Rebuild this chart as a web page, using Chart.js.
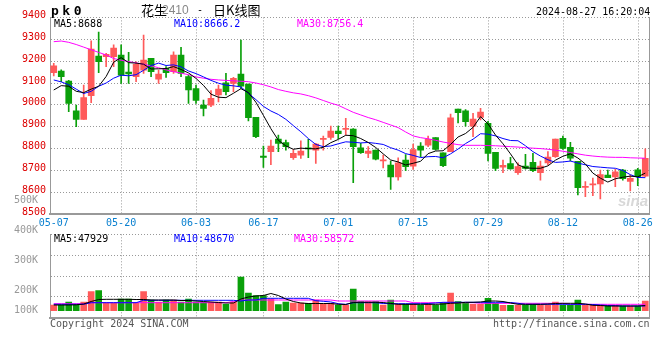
<!DOCTYPE html>
<html>
<head>
<meta charset="utf-8">
<script src="https://cdn.jsdelivr.net/npm/chart.js@4.4.1/dist/chart.umd.min.js"></script>
<style>
  body { margin: 0; background: #fff; }
  #wrap { position: relative; width: 660px; height: 360px; overflow: hidden; font-family: 'DejaVu Sans Mono', monospace; font-size: 10px; }
  canvas { position: absolute; left: 0; }
  .t { position: absolute; white-space: nowrap; line-height: 10px; }
</style>
</head>
<body>
<div id="wrap">
  <canvas id="price" width="660" height="232" style="top:0"></canvas>
  <canvas id="vol" width="660" height="140" style="top:190px"></canvas>

  <div class="t" style="left:51px;top:4px;font-weight:bold;font-size:13px;line-height:13px;letter-spacing:3.5px">pk0</div>
  <div class="t" style="left:141px;top:3px;font-family:'Noto Sans CJK SC';font-size:13px;line-height:13px">花生</div>
  <div class="t" style="left:162px;top:4px;font-family:'Liberation Sans';font-size:12px;line-height:12px;color:#888">2410</div>
  <div class="t" style="left:197px;top:5px">-</div>
  <div class="t" style="left:213px;top:3px;font-family:'Noto Sans CJK SC';font-size:13px;line-height:13px">日K线图</div>
  <div class="t" style="left:536px;top:7px">2024-08-27 16:20:04</div>

  <div class="t" style="left:54px;top:19px;color:#000">MA5:8688</div>
  <div class="t" style="left:174px;top:19px;color:#0000ff">MA10:8666.2</div>
  <div class="t" style="left:297px;top:19px;color:#ff00ff">MA30:8756.4</div>

  <div class="t" style="left:618px;top:193px;font-family:'Liberation Sans';font-weight:bold;font-style:italic;font-size:15px;line-height:15px;color:#d8d8d8">sina</div>

  <div class="t" style="left:54px;top:234px;color:#000">MA5:47929</div>
  <div class="t" style="left:174px;top:234px;color:#0000ff">MA10:48670</div>
  <div class="t" style="left:294px;top:234px;color:#ff00ff">MA30:58572</div>

  <div class="t" style="left:50px;top:319px;color:#555">Copyright 2024 SINA.COM</div>
  <div class="t" style="left:493px;top:319px;color:#555">http://finance.sina.com.cn</div>
</div>

<script>
// trading days 05-07 .. 08-27
const dates = [
  '05-07','05-08','05-09','05-10','05-13','05-14','05-15','05-16','05-17','05-20',
  '05-21','05-22','05-23','05-24','05-27','05-28','05-29','05-30','05-31','06-03',
  '06-04','06-05','06-06','06-07','06-11','06-12','06-13','06-14','06-17','06-18',
  '06-19','06-20','06-21','06-24','06-25','06-26','06-27','06-28','07-01','07-02',
  '07-03','07-04','07-05','07-08','07-09','07-10','07-11','07-12','07-15','07-16',
  '07-17','07-18','07-19','07-22','07-23','07-24','07-25','07-26','07-29','07-30',
  '07-31','08-01','08-02','08-05','08-06','08-07','08-08','08-09','08-12','08-13',
  '08-14','08-15','08-16','08-19','08-20','08-21','08-22','08-23','08-26','08-27'
];
const shownDates = ['05-07','05-20','06-03','06-17','07-01','07-15','07-29','08-12','08-26'];

const opens = [
  9147,9155,9109,8973,8934,9042,9223,9220,9220,9228,
  9150,9129,9159,9213,9118,9167,9152,9228,9129,9075,
  8999,8999,9045,9101,9098,9141,9095,8943,8766,8786,
  8844,8827,8758,8770,8804,8793,8842,8851,8880,8888,
  8889,8804,8778,8793,8744,8725,8671,8748,8720,8812,
  8816,8850,8781,8786,8981,8973,8903,8943,8915,8783,
  8715,8732,8690,8720,8737,8690,8735,8763,8847,8806,
  8742,8623,8634,8638,8679,8670,8702,8650,8703,8674
];
const highs = [
  9190,9160,9112,8999,9091,9293,9333,9236,9274,9274,
  9240,9197,9319,9213,9159,9175,9243,9263,9136,9091,
  9022,9065,9091,9144,9126,9296,9095,8943,8812,8839,
  8862,8839,8796,8836,8842,8824,8857,8903,8903,8938,
  8892,8824,8809,8793,8770,8743,8758,8773,8821,8827,
  8857,8850,8781,8958,8981,8979,8961,8984,8925,8783,
  8748,8760,8735,8774,8778,8743,8786,8844,8857,8829,
  8742,8649,8665,8702,8702,8705,8705,8679,8710,8799
];
const lows = [
  9132,9106,8969,8900,8934,9010,9147,9175,9175,9098,
  9098,9106,9144,9129,9098,9126,9144,9129,9007,9007,
  8950,8992,9014,9045,9060,9075,8927,8850,8714,8726,
  8786,8793,8751,8755,8758,8732,8793,8842,8845,8862,
  8644,8778,8758,8748,8712,8613,8656,8699,8705,8763,
  8809,8793,8717,8786,8918,8903,8854,8931,8744,8699,
  8690,8706,8682,8706,8694,8656,8725,8760,8796,8744,
  8588,8580,8585,8570,8667,8626,8656,8607,8630,8671
];
const closes = [
  9178,9129,9007,8934,9033,9255,9197,9231,9260,9136,
  9142,9185,9205,9152,9141,9147,9228,9144,9068,9020,
  8984,9030,9072,9060,9121,9086,8941,8854,8760,8812,
  8824,8809,8778,8789,8798,8821,8845,8880,8868,8892,
  8809,8781,8789,8752,8748,8671,8735,8717,8796,8793,
  8842,8796,8722,8941,8964,8923,8935,8967,8778,8709,
  8723,8707,8718,8709,8699,8720,8761,8844,8801,8756,
  8621,8626,8638,8681,8667,8694,8662,8664,8672,8755
];

const ma5 = [
  9068,9088,9085,9062,9056,9072,9085,9130,9195,9216,
  9193,9191,9186,9164,9165,9166,9175,9162,9146,9121,
  9089,9049,9035,9033,9053,9074,9056,9012,8952,8891,
  8838,8812,8797,8802,8800,8799,8806,8827,8842,8861,
  8859,8846,8828,8805,8776,8748,8739,8725,8733,8742,
  8777,8789,8790,8819,8853,8869,8897,8946,8913,8862,
  8822,8776,8726,8712,8710,8710,8721,8747,8765,8776,
  8757,8730,8688,8665,8647,8662,8669,8674,8671,8688
];
const ma10 = [
  9114,9105,9092,9072,9052,9062,9085,9100,9122,9136,
  9133,9138,9158,9180,9191,9180,9183,9174,9155,9143,
  9128,9112,9099,9090,9087,9082,9053,9024,8993,8972,
  8956,8934,8905,8877,8846,8819,8809,8812,8822,8831,
  8829,8826,8828,8824,8819,8804,8793,8777,8769,8759,
  8763,8764,8758,8776,8798,8823,8843,8868,8866,8858,
  8846,8837,8836,8813,8786,8766,8749,8737,8739,8743,
  8734,8726,8718,8715,8712,8710,8700,8681,8668,8667
];
const ma30 = [
  9289,9292,9286,9276,9264,9252,9240,9228,9212,9204,
  9198,9192,9186,9178,9170,9160,9152,9145,9138,9128,
  9122,9117,9114,9112,9110,9108,9106,9100,9092,9082,
  9070,9062,9055,9050,9042,9032,9020,9008,8998,8982,
  8966,8954,8942,8932,8920,8908,8896,8876,8858,8850,
  8845,8838,8830,8824,8818,8815,8815,8815,8814,8813,
  8811,8809,8807,8804,8802,8800,8797,8793,8788,8782,
  8776,8770,8766,8763,8761,8760,8760,8758,8757,8756
];

const volumes = [
  45600,45600,69600,45600,69600,152000,160000,59200,59200,93600,
  93600,59200,152000,85600,69600,85600,85600,69600,93600,69600,
  69600,69600,69600,51200,69600,269600,141600,120000,120000,93600,
  48000,69600,61600,61600,59200,85600,51200,59200,45600,45600,
  173600,72000,72000,72000,45600,85600,51200,51200,51200,45600,
  51200,45600,59200,141600,72000,59200,51200,51200,99200,59200,
  43200,43200,43200,43200,43200,43200,43200,69600,43200,43200,
  85600,43200,43200,43200,37600,43200,37600,37600,37600,77600
];
const volMa5 = [
  45600,45600,45600,47200,53600,73600,89600,91200,91200,91200,
  91200,89600,89600,85600,85600,85600,85600,81600,81600,77600,
  73600,69600,65600,61600,61600,93600,109600,117600,121600,137600,
  121600,93600,73600,61600,57600,57600,57600,57600,51200,49600,
  65600,67200,67200,67200,65600,57600,51200,51200,51200,51200,
  51200,51200,53600,59200,61600,67200,67200,69600,77600,77600,
  73600,61600,51200,51200,51200,51200,53600,57600,59200,59200,
  59200,53600,43200,41600,37600,37600,37600,37600,37600,41600
];
const volMa10 = [
  51200,51200,51200,51200,51200,64000,64000,64000,64000,64000,
  64000,64000,83200,83200,83200,83200,83200,83200,83200,83200,
  83200,83200,83200,83200,83200,77600,85600,85600,99200,99200,
  99200,99200,99200,99200,99200,80000,75200,70000,56000,51200,
  64000,64000,64000,64000,57600,56000,56000,56000,56000,56000,
  57600,61600,67200,67200,67200,67200,67200,67200,67200,67200,
  67200,65600,59200,51200,51200,51200,51200,51200,51200,51200,
  51200,51200,49600,45600,41600,40000,37600,37600,37600,37600
];
const volMa30 = [
  56000,56000,56000,56000,56000,64000,64000,64000,64000,64000,
  64000,64000,64000,64000,64000,64000,64000,64000,64000,64000,
  64000,64000,64000,64000,73600,85600,85600,85600,85600,85600,
  85600,85600,85600,85600,85600,85600,85600,85600,77600,77600,
  77600,77600,77600,77600,77600,77600,77600,77600,64000,64000,
  64000,64000,64000,64000,64000,64000,64000,59200,59200,59200,
  59200,59200,59200,59200,59200,59200,59200,59200,59200,51200,
  51200,51200,51200,51200,51200,51200,51200,51200,51200,51200
];
const volTickValues = [0, 160000, 400000, 640000, 880000];
const volTickLabels = ['100K', '200K', '300K', '400K', '500K'];

const UP = '#ff5a5a';
const DOWN = '#0aa00a';
const GRID = '#999';
const candleColors = closes.map((c, i) => c >= opens[i] ? UP : DOWN);

Chart.defaults.font.family = "'DejaVu Sans Mono', monospace";
Chart.defaults.font.size = 10;

// dotted vertical lines on the labelled dates
const dateLines = {
  id: 'dateLines',
  beforeDatasetsDraw(chart) {
    const { ctx, chartArea, scales: { x } } = chart;
    ctx.save();
    ctx.strokeStyle = GRID;
    ctx.lineWidth = 1;
    ctx.setLineDash([1, 2]);
    shownDates.forEach(d => {
      const i = dates.indexOf(d);
      if (i <= 0) return;
      const px = Math.round(x.getPixelForValue(i)) + 0.5;
      ctx.beginPath();
      ctx.moveTo(px, chartArea.top);
      ctx.lineTo(px, chartArea.bottom);
      ctx.stroke();
    });
    ctx.restore();
  }
};

function maLine(data, color) {
  return { type: 'line', data: data, borderColor: color, borderWidth: 1, pointRadius: 0, tension: 0, order: 0 };
}

const common = {
  responsive: false,
  animation: false,
  devicePixelRatio: 1,
  events: [],
  plugins: { legend: { display: false }, tooltip: { enabled: false } }
};

const rightBorder = {
  position: 'right',
  ticks: { display: false },
  grid: { display: false, drawTicks: false },
  border: { color: GRID },
  afterFit: s => { s.width = 0; }
};

// price (K line)
new Chart(document.getElementById('price'), {
  type: 'bar',
  data: {
    labels: dates,
    datasets: [
      maLine(ma5, '#000000'),
      maLine(ma10, '#0000ff'),
      maLine(ma30, '#ff00ff'),
      {
        data: opens.map((o, i) => [o, closes[i]]),
        backgroundColor: candleColors,
        barThickness: 6, minBarLength: 1, grouped: false, order: 1
      },
      {
        data: lows.map((l, i) => [l, highs[i]]),
        backgroundColor: candleColors,
        barThickness: 1, grouped: false, order: 2
      }
    ]
  },
  options: {
    ...common,
    layout: { padding: { top: 17.4, right: 11, left: 0, bottom: 0 } },
    scales: {
      x: {
        grid: { display: false, drawTicks: false },
        border: { color: GRID, width: 2 },
        ticks: {
          autoSkip: false, maxRotation: 0, minRotation: 0, padding: 3, color: '#0a80d0',
          callback: (v, i) => shownDates.includes(dates[i]) ? dates[i] : ''
        },
        afterFit: s => { s.height = 17.8; }
      },
      y: {
        min: 8500, max: 9400,
        ticks: { stepSize: 100, color: '#dd0000', padding: 4, labelOffset: -2, callback: v => String(v) },
        grid: { drawTicks: false, color: GRID },
        border: { color: GRID, dash: [1, 2] },
        afterFit: s => { s.width = 50; }
      },
      yr: rightBorder
    }
  },
  plugins: [dateLines]
});

// volume
const volMin = -56000, volMax = 611200;
new Chart(document.getElementById('vol'), {
  type: 'bar',
  data: {
    labels: dates,
    datasets: [
      maLine(volMa5, '#000000'),
      maLine(volMa10, '#0000ff'),
      maLine(volMa30, '#ff00ff'),
      { data: volumes, backgroundColor: candleColors, barThickness: 6, order: 1 }
    ]
  },
  options: {
    ...common,
    layout: { padding: { top: 44.3, right: 11, left: 0, bottom: 12.3 } },
    scales: {
      x: {
        grid: { display: false, drawTicks: false },
        border: { color: GRID, width: 2 },
        ticks: { display: false, autoSkip: false },
        afterFit: s => { s.height = 0; }
      },
      y: {
        min: volMin, max: volMax, weight: 0,
        ticks: { display: false },
        grid: { drawTicks: false, color: GRID },
        border: { color: GRID, dash: [1, 2] },
        afterBuildTicks: s => {
          // four equal bands
          s.ticks = [0, 1, 2, 3, 4].map(k => ({ value: s.min + (s.max - s.min) * k / 4 }));
        },
        afterFit: s => { s.width = 0; }
      },
      yl: {
        position: 'left', weight: 1,
        min: volMin, max: volMax,
        grid: { display: false },
        border: { display: false },
        ticks: { color: GRID, padding: 4, callback: (v, i) => volTickLabels[i] },
        afterBuildTicks: s => { s.ticks = volTickValues.map(v => ({ value: v })); },
        afterFit: s => { s.width = 50; }
      },
      yr: rightBorder
    }
  },
  plugins: [dateLines]
});
</script>
</body>
</html>
